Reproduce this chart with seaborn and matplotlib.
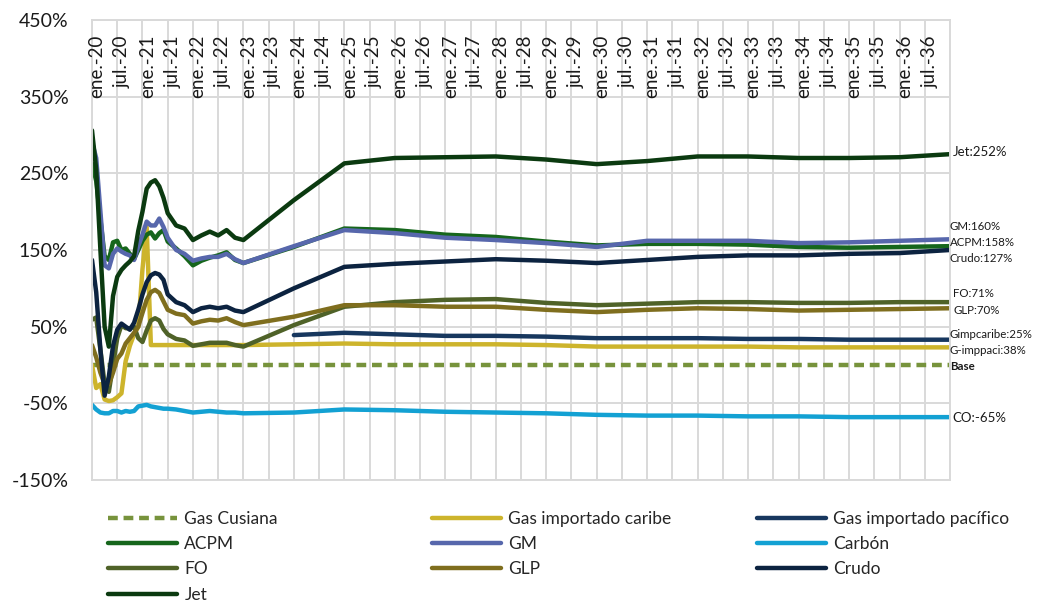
import numpy as np
import pandas as pd
import matplotlib
matplotlib.use("Agg")
import matplotlib.pyplot as plt
import matplotlib.transforms as mtrans
import seaborn as sns

# ---------------- data ----------------
# month index (0 = ene.-20)
months = [0, 1, 2, 3, 4, 5, 6, 7, 8, 9, 10, 11, 12, 13, 14, 15, 16, 17, 18,
          20, 22, 24, 26, 28, 30, 32, 34, 36,
          48, 60, 72, 84, 96, 108, 120, 132, 144, 156, 168, 180, 192, 204]

gas_cusiana = [0] * 42
gas_caribe = [0, -30, -25, -45, -47, -46, -42, -37, 5, 25, 40, 50, 125, 180, 26, 26, 26, 26, 26,
              26, 26, 26, 26, 26, 26, 26, 26, 26,
              27, 28, 27, 27, 27, 26, 24, 24, 24, 24, 23, 23, 23, 23]
gas_pacifico = [np.nan] * 28 + [39, 42, 40, 38, 38, 37, 35, 35, 35, 34, 34, 33, 33, 33]
acpm = [263, 240, 190, 142, 137, 160, 162, 150, 152, 145, 138, 150, 162, 170, 173, 165, 172, 176, 161,
        152, 142, 130, 136, 140, 143, 147, 137, 133,
        154, 178, 176, 170, 167, 161, 156, 158, 158, 157, 154, 153, 154, 155]
gm = [291, 270, 200, 130, 126, 145, 152, 148, 145, 143, 137, 155, 170, 187, 182, 182, 191, 180, 166,
      150, 145, 136, 139, 141, 141, 145, 138, 133,
      155, 176, 172, 166, 163, 159, 154, 162, 162, 162, 159, 160, 162, 164]
carbon = [-52, -58, -62, -63, -63, -60, -60, -62, -60, -61, -60, -54, -53, -52, -54, -55, -56, -57, -57,
          -58, -60, -62, -61, -60, -61, -62, -62, -63,
          -62, -58, -59, -61, -62, -63, -65, -66, -66, -67, -67, -68, -68, -68]
fo = [59, 62, 20, -25, -35, 0, 35, 52, 48, 48, 50, 35, 30, 45, 58, 61, 58, 47, 40,
      34, 32, 25, 27, 29, 29, 29, 26, 24,
      52, 76, 82, 85, 86, 81, 78, 80, 82, 82, 81, 81, 82, 82]
glp = [26, 10, -10, -25, -25, -10, 8, 15, 28, 35, 42, 50, 68, 85, 95, 98, 94, 83, 72,
       67, 65, 54, 57, 59, 58, 61, 56, 52,
       63, 78, 78, 76, 76, 72, 69, 72, 74, 73, 71, 72, 73, 74]
crudo = [137, 95, 20, -40, -15, 25, 46, 54, 50, 46, 55, 72, 92, 108, 117, 120, 118, 111, 92,
         82, 78, 69, 74, 76, 74, 76, 71, 69,
         100, 128, 132, 135, 138, 136, 133, 137, 141, 143, 143, 145, 146, 150]
jet = [306, 255, 150, 50, 24, 90, 115, 124, 130, 135, 142, 175, 200, 230, 238, 241, 233, 218, 198,
       182, 178, 163, 169, 174, 169, 176, 166, 163,
       215, 263, 270, 271, 272, 268, 262, 266, 272, 272, 270, 270, 271, 275]

series_names = ["Gas Cusiana", "Gas importado caribe", "Gas importado pacífico", "ACPM", "GM",
                "Carbón", "FO", "GLP", "Crudo", "Jet"]
series_values = [gas_cusiana, gas_caribe, gas_pacifico, acpm, gm, carbon, fo, glp, crudo, jet]
colors = ["#77933C", "#CDB42C", "#17375E", "#16661C", "#5767AC",
          "#13A1D3", "#4F6228", "#7F6E1E", "#0C2340", "#0B3A10"]

years = list(range(20, 37))
tick_labels = []
for yy in years:
    tick_labels += [f"ene.-{yy}", f"jul.-{yy}"]
tick_months = list(range(0, 6 * len(tick_labels), 6))

end_labels = ["Jet:252%", "GM:160%", "ACPM:158%", "Crudo:127%", "FO:71%", "GLP:70%",
              "Gimpcaribe:25%", "G-imppaci:38%", "Base", "CO:-65%"]

# ---------------- figure ----------------
sns.set_style("white")
plt.rcParams["font.family"] = ["Lato", "DejaVu Sans"]

W, H = 1039, 604
fig = plt.figure(figsize=(W / 100, H / 100), dpi=100)
ax = fig.add_axes([92 / W, 1 - 480 / H, (950 - 92) / W, (480 - 20) / H])

grid_c = "#D9D9D9"
ax.set_xlim(0, 204)
ax.set_ylim(-150, 450)
ax.set_xticks(range(0, 205, 6))
ax.set_yticks(range(-150, 451, 100))
ax.grid(True, color=grid_c, lw=1.4)
ax.set_axisbelow(True)
for s in ax.spines.values():
    s.set_color(grid_c)
    s.set_linewidth(1.4)
ax.tick_params(axis="both", length=0)
ax.set_xticklabels([])
ax.set_yticklabels([f"{v}%" for v in range(-150, 451, 100)], fontsize=14, color="#1a1a1a")
ax.tick_params(axis="y", pad=17)

handles = {}
for name, vals, c in zip(series_names, series_values, colors):
    df = pd.DataFrame({"m": months, "v": vals}).dropna()
    sns.lineplot(data=df, x="m", y="v", ax=ax, color=c, lw=3.2, label=name,
                 legend=False, sort=False)
    ln = ax.lines[-1]
    ln.set_solid_capstyle("round")
    if name == "Gas Cusiana":
        ln.set_dashes([2.2, 1.3])
    handles[name] = ln
ax.set_xlabel("")
ax.set_ylabel("")

# x tick labels drawn inside the top of the plot area
trans = mtrans.blended_transform_factory(ax.transData, ax.transAxes)
off = mtrans.offset_copy(trans, fig=fig, x=5, y=0, units="dots")
for m, lab in zip(tick_months, tick_labels):
    ax.text(m, (480 - 35) / 460, lab, rotation=90, ha="center", va="top",
            fontsize=13.5, color="#1a1a1a", transform=off)

# end labels
end_pos = [(953, 152, 9.5), (950, 227, 8.3), (950, 243, 8.3), (950, 259, 8.3),
           (953, 294, 8.3), (953, 310, 8.3), (949, 335, 8.3), (949, 351, 8.3),
           (950, 367, 8.3), (952, 418, 9.5)]
for lab, (px, py, fs) in zip(end_labels, end_pos):
    fig.text(px / W, 1 - py / H, lab, ha="left", va="center", fontsize=fs,
             color="#1a1a1a", fontweight="bold" if lab == "Base" else "normal")

# legend: three columns
cols = [["Gas Cusiana", "ACPM", "FO", "Jet"],
        ["Gas importado caribe", "GM", "GLP"],
        ["Gas importado pacífico", "Carbón", "Crudo"]]
col_x = [108, 432, 757]
for names, cx in zip(cols, col_x):
    fig.legend([handles[n] for n in names], names, loc="upper left",
               bbox_to_anchor=(cx / W, 1 - 511 / H), frameon=False, fontsize=12.5,
               handlelength=4.0, handletextpad=0.4, labelspacing=0.53, borderpad=0,
               borderaxespad=0)

fig.savefig("out.png", dpi=100)
